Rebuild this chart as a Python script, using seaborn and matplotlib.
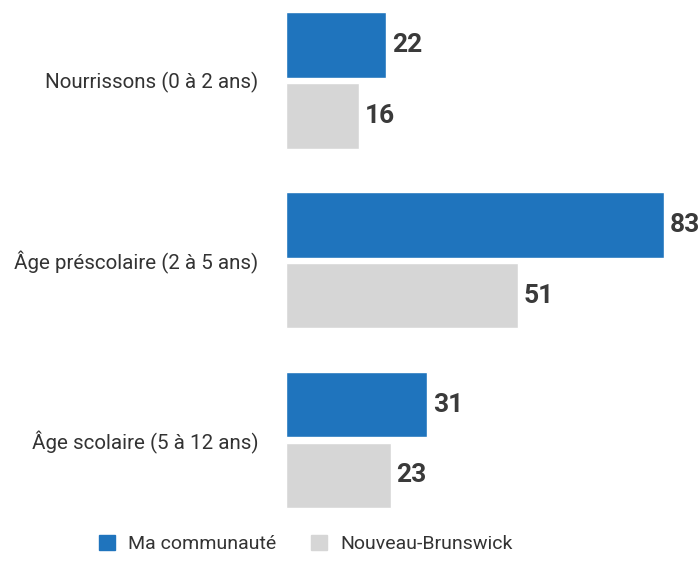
import matplotlib
matplotlib.use("Agg")
import matplotlib.pyplot as plt
import seaborn as sns
import pandas as pd
from matplotlib.patches import Patch

categories = ["Nourrissons (0 à 2 ans)", "Âge préscolaire (2 à 5 ans)", "Âge scolaire (5 à 12 ans)"]
series_names = ["Ma communauté", "Nouveau-Brunswick"]
ma_communaute = [22, 83, 31]
nouveau_brunswick = [16, 51, 23]

BLUE = "#1f74bd"
GRAY = "#d6d6d6"
TEXT = "#333333"

sns.set_theme(style="white")
plt.rcParams["font.family"] = ["Roboto", "DejaVu Sans"]

df = pd.DataFrame({
    "cat": categories * 2,
    "serie": [series_names[0]] * 3 + [series_names[1]] * 3,
    "val": ma_communaute + nouveau_brunswick,
})

fig = plt.figure(figsize=(7, 5.81), dpi=100)
ax = fig.add_axes([286 / 700, 61 / 581, 378 / 700, 520 / 581])
sns.barplot(data=df, y="cat", x="val", hue="serie", orient="h",
            palette=[BLUE, GRAY], width=0.788, gap=0.078, ax=ax,
            legend=False, saturation=1)

ax.set_xlim(0, 83)
ax.set_ylim(2.445, -0.448)
ax.set_xlabel("")
ax.set_ylabel("")
ax.set_xticks([])
for s in ax.spines.values():
    s.set_visible(False)
ax.tick_params(axis="y", length=0, pad=20, labelsize=14.8, labelcolor=TEXT)

for cont in ax.containers:
    ax.bar_label(cont, padding=4, fontsize=19, fontweight="bold", color="#3a3a3a",
                 clip_on=False)

handles = [Patch(color=BLUE), Patch(color=GRAY)]
fig.legend(handles, series_names, loc="center", bbox_to_anchor=(306 / 700, 1 - 544 / 581),
           ncol=2, frameon=False, fontsize=14, handlelength=0.8, handleheight=0.8,
           columnspacing=1.8, handletextpad=0.7, labelcolor=TEXT)

fig.savefig("out.png", dpi=100)
